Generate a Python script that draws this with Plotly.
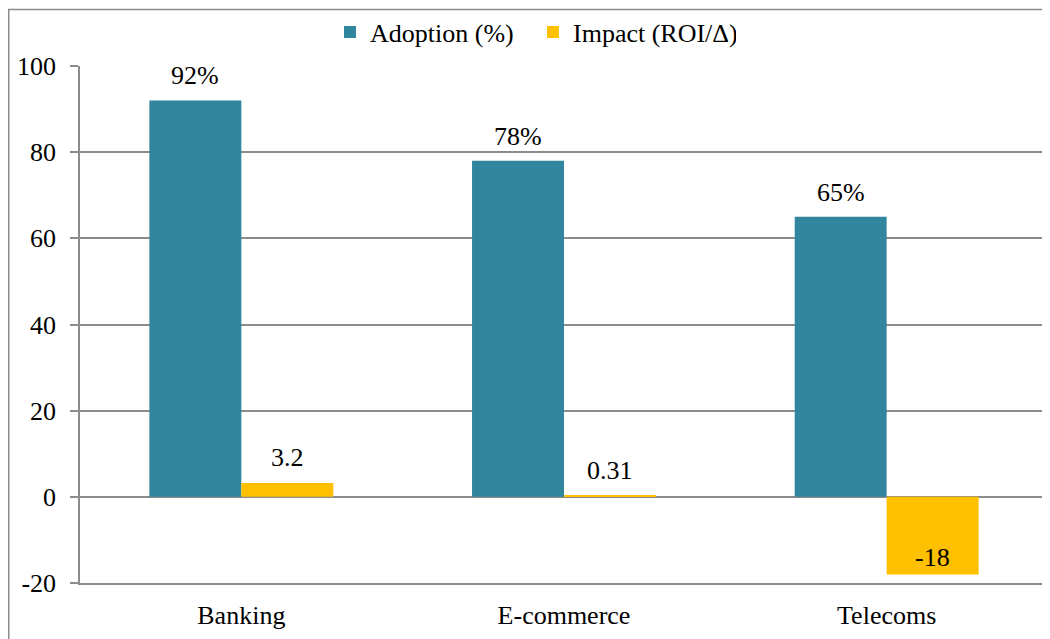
import plotly.graph_objects as go

categories = ["Banking", "E-commerce", "Telecoms"]
adoption = [92, 78, 65]
impact = [3.2, 0.31, -18]
adoption_labels = ["92%", "78%", "65%"]
impact_labels = ["3.2", "0.31", "-18"]
y_ticks = [-20, 0, 20, 40, 60, 80, 100]
y_tick_text = ["-20", "0", "20", "40", "60", "80", "100"]

TEAL = "#31859C"
GOLD = "#FFC000"
GRID = "#8c8c8c"
FONT = "Liberation Serif, Times New Roman, serif"
FS = 26

fig = go.Figure()
fig.add_trace(go.Bar(x=categories, y=adoption, name="Adoption (%)",
                     marker=dict(color=TEAL, line=dict(width=0))))
fig.add_trace(go.Bar(x=categories, y=impact, name="Impact (ROI/Δ)",
                     marker=dict(color=GOLD, line=dict(width=0))))

annotations = []
for c, v, t in zip(categories, adoption, adoption_labels):
    annotations.append(dict(x=c, y=v, text=t, xref="x", yref="y", showarrow=False,
                            xshift=-46, yshift=8, yanchor="bottom",
                            font=dict(size=FS, color="black", family=FONT)))
for c, v, t in zip(categories, impact, impact_labels):
    annotations.append(dict(x=c, y=v, text=t, xref="x", yref="y", showarrow=False,
                            xshift=46, yshift=(9 if v >= 0 else 0), yanchor="bottom",
                            font=dict(size=FS, color="black", family=FONT)))

# figure-space layout (page shows the figure offset by the body margin)
W, H = 1050, 639
L, R, T, B = 72, 10, 58, 64
pw, ph = W - L - R, H - T - B
shapes = [dict(type="rect", xref="paper", yref="paper",
               x0=(0.75 - L) / pw, x1=(W - 0.75 - L) / pw,
               y0=-(B - 0.75) / ph, y1=(H - B - 1.5) / ph,
               line=dict(color=GRID, width=1.5), layer="below")]

fig.update_layout(
    width=W, height=H,
    margin=dict(l=L, r=R, t=T, b=B, autoexpand=False),
    paper_bgcolor="white", plot_bgcolor="white",
    barmode="group", bargap=0.43, bargroupgap=0,
    font=dict(family=FONT, size=FS, color="black"),
    legend=dict(orientation="h", x=(322 - L) / pw, xanchor="left",
                y=(H - B - 24) / ph, yanchor="middle",
                font=dict(size=FS), traceorder="normal", itemwidth=30,
                entrywidth=158, entrywidthmode="pixels",
                bgcolor="rgba(0,0,0,0)"),
    annotations=annotations,
    shapes=shapes,
    showlegend=True,
)
fig.update_yaxes(range=[-20, 100], tickvals=y_ticks, ticktext=y_tick_text,
                 showgrid=True, gridcolor=GRID, gridwidth=1.5,
                 zeroline=True, zerolinecolor=GRID, zerolinewidth=1.5,
                 showline=True, linecolor=GRID, linewidth=1.5,
                 ticks="outside", ticklen=8, tickcolor=GRID, tickwidth=1.5,
                 ticklabelstandoff=9, tickfont=dict(size=FS))
fig.update_xaxes(showline=True, linecolor=GRID, linewidth=1.5, ticks="",
                 ticklabelstandoff=8, tickfont=dict(size=FS))

fig.write_html("out.html")
